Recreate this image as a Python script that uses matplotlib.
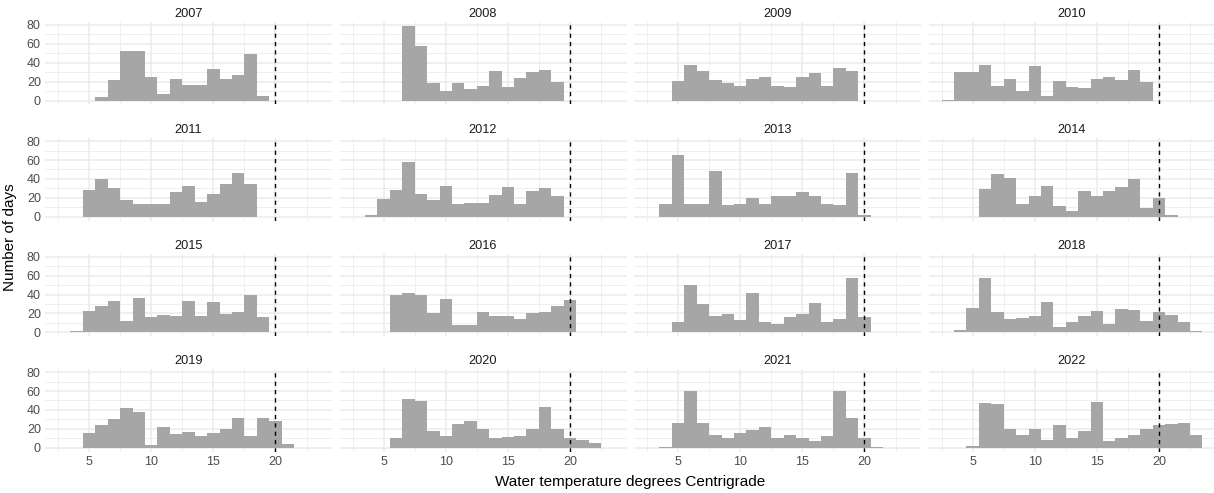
import matplotlib.pyplot as plt

plt.rcParams['font.family'] = ['Liberation Sans', 'DejaVu Sans']

# bin centres (1 degree bins) and day counts per year
years = [2007, 2008, 2009, 2010, 2011, 2012, 2013, 2014,
         2015, 2016, 2017, 2018, 2019, 2020, 2021, 2022]

centres = {
    2007: list(range(6, 20)),
    2008: list(range(7, 20)),
    2009: list(range(5, 20)),
    2010: list(range(3, 20)),
    2011: list(range(5, 19)),
    2012: list(range(4, 20)),
    2013: list(range(4, 21)),
    2014: list(range(6, 22)),
    2015: list(range(4, 20)),
    2016: list(range(6, 21)),
    2017: list(range(5, 21)),
    2018: list(range(4, 24)),
    2019: list(range(5, 22)),
    2020: list(range(6, 23)),
    2021: list(range(4, 22)),
    2022: list(range(5, 24)),
}

counts = {
    2007: [4, 22, 53, 53, 25, 7, 23, 17, 17, 33, 23, 27, 49, 5],
    2008: [79, 58, 19, 10, 19, 12, 16, 31, 14, 24, 30, 32, 20],
    2009: [21, 38, 31, 22, 19, 15, 23, 25, 16, 14, 25, 29, 16, 35, 31],
    2010: [1, 30, 30, 38, 16, 23, 10, 37, 5, 21, 14, 13, 23, 25, 22, 32, 20],
    2011: [28, 40, 30, 18, 14, 14, 13, 26, 33, 16, 24, 35, 46, 35],
    2012: [2, 19, 28, 58, 24, 18, 33, 14, 15, 15, 23, 31, 14, 27, 30, 22],
    2013: [13, 65, 13, 14, 48, 12, 13, 20, 13, 22, 22, 26, 22, 13, 12, 46, 2],
    2014: [29, 45, 41, 13, 22, 33, 11, 6, 27, 22, 27, 31, 40, 9, 20, 2],
    2015: [1, 23, 28, 33, 12, 36, 16, 18, 17, 33, 17, 32, 19, 21, 40, 16],
    2016: [40, 42, 39, 20, 35, 8, 8, 21, 17, 17, 14, 20, 21, 28, 34],
    2017: [11, 50, 30, 17, 19, 13, 42, 11, 9, 16, 19, 31, 11, 14, 58, 16],
    2018: [3, 26, 57, 21, 14, 15, 17, 32, 6, 11, 17, 23, 9, 25, 24, 12, 21, 18, 11, 1],
    2019: [16, 24, 30, 42, 38, 3, 22, 15, 17, 12, 16, 20, 31, 12, 31, 28, 4],
    2020: [10, 52, 49, 18, 12, 25, 28, 20, 10, 11, 12, 20, 43, 20, 10, 8, 5],
    2021: [1, 26, 60, 26, 13, 10, 16, 19, 22, 10, 13, 10, 7, 12, 60, 31, 10, 1],
    2022: [2, 47, 46, 20, 14, 20, 8, 24, 10, 18, 48, 7, 10, 13, 20, 24, 25, 26, 13],
}

threshold = 20
x_major = [5, 10, 15, 20]
x_minor = [2.5, 7.5, 12.5, 17.5, 22.5]
y_major = [0, 20, 40, 60, 80]
y_minor = [10, 30, 50, 70]

W, H = 1214, 493
fig = plt.figure(figsize=(W / 100, H / 100), dpi=100)

col_left = [45, 339.5, 634, 928.5]
row_top = [22.2, 138.3, 253.9, 369.3]
pw, ph = 287, 82.2

for i, yr in enumerate(years):
    r, c = divmod(i, 4)
    ax = fig.add_axes([col_left[c] / W, 1 - (row_top[r] + ph) / H, pw / W, ph / H])
    ax.bar(centres[yr], counts[yr], width=1.0, color='#A6A6A6', linewidth=0, zorder=2)
    ax.axvline(threshold, color='black', linewidth=1.0, linestyle=(0, (3, 3)), zorder=3)

    ax.set_xlim(1.45, 24.55)
    ax.set_ylim(-3.95, 82.95)
    ax.set_xticks(x_major)
    ax.set_xticks(x_minor, minor=True)
    ax.set_yticks(y_major)
    ax.set_yticks(y_minor, minor=True)
    ax.grid(True, which='major', color='#EBEBEB', linewidth=1.1, zorder=0)
    ax.grid(True, which='minor', color='#EBEBEB', linewidth=0.55, zorder=0)
    ax.set_axisbelow(True)
    for s in ax.spines.values():
        s.set_visible(False)
    ax.tick_params(which='both', length=0, labelsize=9, labelcolor='#4D4D4D', pad=3)
    if c != 0:
        ax.tick_params(labelleft=False)
    if r != 3:
        ax.tick_params(labelbottom=False)
    ax.set_title(str(yr), fontsize=9.2, color='#1A1A1A', pad=3.5)

fig.text(630 / W, 1 - 482 / H, 'Water temperature degrees Centrigrade',
         ha='center', va='center', fontsize=11, color='black')
fig.text(10 / W, 1 - 237 / H, 'Number of days', rotation=90,
         ha='center', va='center', fontsize=11, color='black')

fig.savefig('out.png', dpi=100)
